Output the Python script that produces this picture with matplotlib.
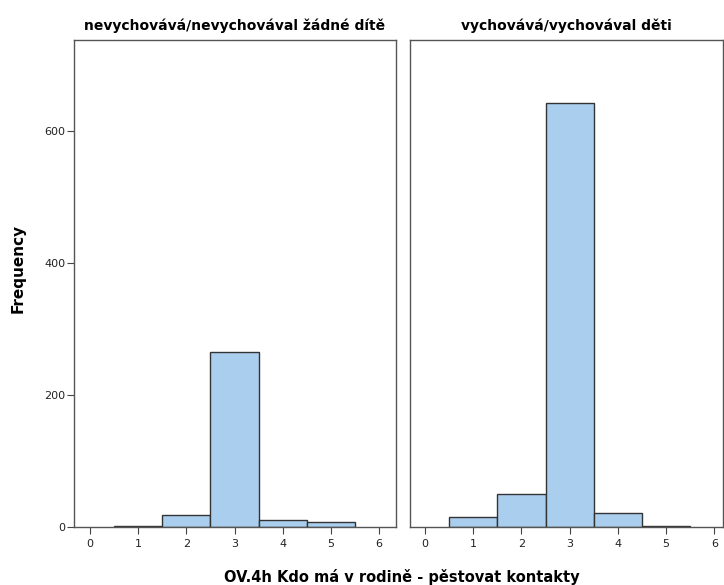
import matplotlib
matplotlib.use("Agg")
import matplotlib.pyplot as plt

categories = [1, 2, 3, 4, 5]
x_ticks = [0, 1, 2, 3, 4, 5, 6]
y_ticks = [0, 200, 400, 600]
panel_titles = ["nevychovává/nevychovával žádné dítě", "vychovává/vychovával děti"]
freq_no_child = [2, 18, 265, 11, 7]
freq_child = [15, 50, 643, 21, 2]

plt.rcParams['font.family'] = ['DejaVu Sans']
fig = plt.figure(figsize=(7.24, 5.85), dpi=100)
W, H = 724, 585
axes = [fig.add_axes([74 / W, 1 - 527 / H, 322 / W, 487 / H]),
        fig.add_axes([410 / W, 1 - 527 / H, 313 / W, 487 / H])]
xlims = [(-0.33, 6.35), (-0.31, 6.18)]
for ax, vals, title, xl in zip(axes, [freq_no_child, freq_child], panel_titles, xlims):
    ax.bar(categories, vals, width=1.0, color="#aacfee", edgecolor="#333333", linewidth=1.0)
    ax.set_xlim(*xl)
    ax.set_ylim(0, 738)
    ax.set_xticks(x_ticks)
    ax.set_yticks(y_ticks)
    ax.set_title(title, fontsize=10, fontweight="bold", pad=7)
    for s in ax.spines.values():
        s.set_color("#555555")
        s.set_linewidth(1.0)
    ax.tick_params(axis="both", labelsize=8, color="#444444", length=5, labelcolor="#222222")
    ax.tick_params(axis="y", pad=1)
axes[1].tick_params(axis="y", left=False, labelleft=False)
fig.text(18 / W, 1 - 268 / H, "Frequency", rotation=90, ha="center", va="center",
         fontsize=11, fontweight="bold")
fig.text(402 / W, 1 - 577 / H, "OV.4h Kdo má v rodině - pěstovat kontakty", ha="center", va="center",
         fontsize=10.5, fontweight="bold")
fig.savefig("out.png", dpi=100)
